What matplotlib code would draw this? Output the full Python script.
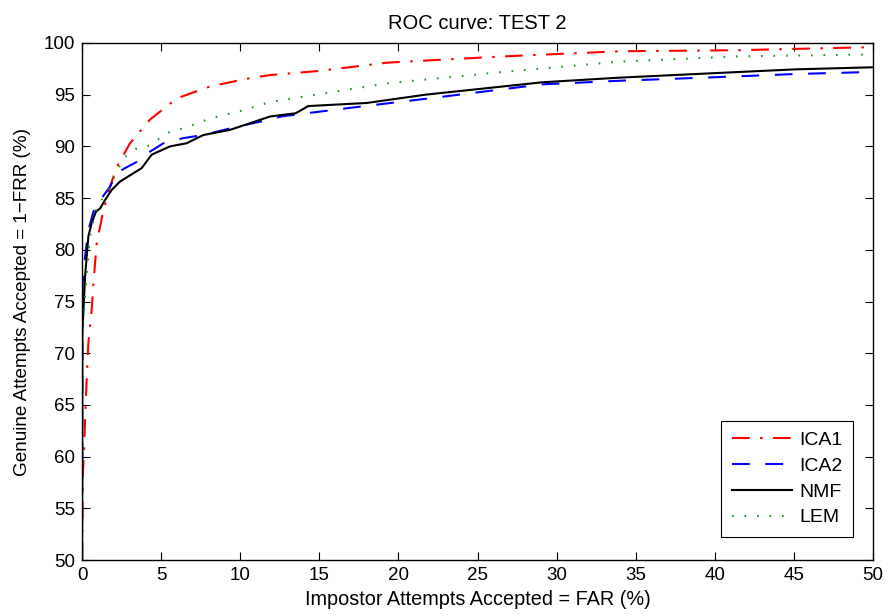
import matplotlib
matplotlib.use('Agg')
import matplotlib.pyplot as plt

# ROC curves (FAR %, 1-FRR %)
ica1_far = [0, 0.02, 0.04, 0.13, 0.19, 0.3, 0.4, 0.61, 0.72, 0.93, 1.35, 1.77, 2.19,
            3.03, 4.3, 6.0, 8.1, 10.6, 11.9, 15, 19.3, 26.6, 34, 41.4, 50]
ica1_gar = [50, 52.6, 58.1, 60.6, 63.5, 67.7, 71, 74.2, 76.8, 80.7, 83.8, 86.1, 88.0,
            90.3, 92.6, 94.65, 95.8, 96.6, 96.9, 97.3, 98.1, 98.7, 99.2, 99.3, 99.6]

ica2_far = [0, 0.02, 0.04, 0.19, 0.4, 0.72, 1.24, 1.77, 2.19, 2.72, 3.46, 4.3, 5.14,
            6.4, 7.67, 9.78, 11.9, 12.6, 16.8, 21.7, 25.4, 29.1, 34, 40.2, 45.1, 50]
ica2_gar = [50, 70, 76.8, 79.3, 81.9, 83.7, 85.0, 86.1, 87.4, 87.9, 88.5, 89.5, 90.3,
            90.8, 91.1, 91.9, 92.6, 92.9, 93.7, 94.6, 95.3, 96.0, 96.35, 96.7, 97.0, 97.2]

nmf_far = [0, 0.02, 0.19, 0.4, 0.61, 0.88, 1.14, 1.45, 1.88, 2.4, 3.03, 3.77, 4.4,
           5.56, 6.6, 7.67, 9.36, 11.9, 13.5, 14.3, 18, 21.7, 25.4, 29.1, 34, 40.2, 45.1, 50]
nmf_gar = [50, 72, 77.4, 81.3, 82.6, 83.7, 84.0, 84.8, 85.8, 86.6, 87.2, 87.9, 89.2,
           90.0, 90.3, 91.1, 91.6, 92.9, 93.2, 93.9, 94.2, 95.0, 95.6, 96.2, 96.65, 97.1, 97.45, 97.65]

lem_far = [0, 0.02, 0.19, 0.5, 0.93, 1.56, 1.98, 2.6, 3.46, 4.3, 5.35, 6.4, 8.1,
           10.2, 11.9, 19.3, 26.6, 34, 41.4, 50]
lem_gar = [50, 72, 75.5, 81.3, 84.2, 85.5, 86.9, 88.85, 89.8, 90.1, 91.3, 91.75, 92.7,
           93.5, 94.3, 96.1, 97.2, 98.2, 98.7, 98.9]

labels = ('ICA1', 'ICA2', 'NMF', 'LEM')
xticks = list(range(0, 51, 5))
yticks = list(range(50, 101, 5))

plt.rcParams['font.family'] = ['Liberation Sans', 'DejaVu Sans']

fig = plt.figure(figsize=(8.87, 6.15), dpi=100)
ax = fig.add_axes([0.0925, 0.0894, 0.8917, 0.8407])

LW = 1.5
ax.plot(ica1_far, ica1_gar, color='red', lw=LW, dashes=(8.5, 5, 1.2, 5))
ax.plot(ica2_far, ica2_gar, color='blue', lw=LW, dashes=(8.5, 7.5))
ax.plot(nmf_far, nmf_gar, color='black', lw=LW)
ax.plot(lem_far, lem_gar, color=(0.1, 0.6, 0.1), lw=LW, dashes=(0.8, 5.2))

ax.set_xlim(0, 50)
ax.set_ylim(50, 100)
ax.set_xticks(xticks)
ax.set_yticks(yticks)
ax.tick_params(direction='in', top=True, right=True, length=6, width=0.8,
               labelsize=13.5, pad=5)
for s in ax.spines.values():
    s.set_linewidth(1.0)

ax.set_title('ROC curve: TEST 2', fontsize=14.5, pad=10)
ax.set_xlabel('Impostor Attempts Accepted = FAR (%)', fontsize=14.3, labelpad=4)
ax.set_ylabel('Genuine Attempts Accepted = 1\u2212FRR (%)', fontsize=13.6, labelpad=9)

leg = ax.legend(labels, loc='lower right', bbox_to_anchor=(0.975, 0.0445),
                borderaxespad=0, fontsize=14, fancybox=False, framealpha=1,
                edgecolor='black', handlelength=3.1, labelspacing=0.42,
                borderpad=0.55, handletextpad=0.35)
leg.get_frame().set_linewidth(0.8)

plt.savefig('out.png', dpi=100)
